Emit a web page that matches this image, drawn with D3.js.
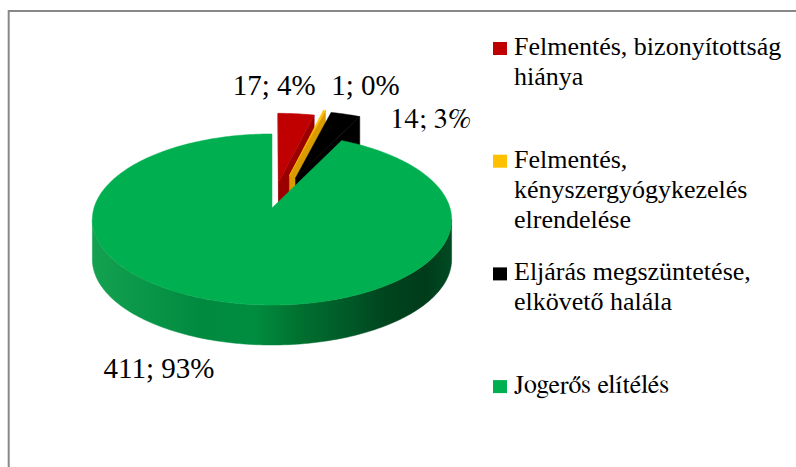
<!DOCTYPE html>
<html><head><meta charset="utf-8">
<script src="https://cdn.jsdelivr.net/npm/d3@7"></script>
</head><body style="margin:0">
<script>
// data
const categories = [
  "Felmentés, bizonyítottság hiánya",
  "Felmentés, kényszergyógykezelés elrendelése",
  "Eljárás megszüntetése, elkövető halála",
  "Jogerős elítélés"
];
const legendLines = [
  ["Felmentés, bizonyítottság", "hiánya"],
  ["Felmentés,", "kényszergyógykezelés", "elrendelése"],
  ["Eljárás megszüntetése,", "elkövető halála"],
  ["Jogerős elítélés"]
];
const values = [17, 1, 14, 411];

// styles
const labelFonts = ["Times New Roman", "Tinos", "FreeSerif", "Nimbus Roman"];
const legendFonts = ["Liberation Serif", "Times New Roman", "Tinos", "FreeSerif"];
const colors = ["#c00000", "#ffc000", "#000000", "#00b050"];
const sideColors = ["#9a0000", "#d99b00", "#000000", "url(#greenSide)"];
const explode = [0.33, 0.42, 0.4, 0];
// label offset (px) from the outer top rim point on each slice bisector
const labelShift = [[-22, -19], [41, -15], [85, 14], [-67, 76]];

const dims = { width: 796, height: 467 };
const p3 = { cx: 272, cy: 208, r: 178, tilt: 84, persp: 0.134, depth: 40 };

const svg = d3
  .select("body")
  .append("svg")
  .attr("width", dims.width)
  .attr("height", dims.height)
  .style("display", "block");

// green side gradient
const grad = svg
  .append("defs")
  .append("linearGradient")
  .attr("id", "greenSide")
  .attr("gradientUnits", "userSpaceOnUse")
  .attr("x1", p3.cx - p3.r)
  .attr("x2", p3.cx + p3.r)
  .attr("y1", 0)
  .attr("y2", 0);
[
  [0, "#13a150"],
  [0.3, "#008a40"],
  [0.45, "#008d40"],
  [0.58, "#00702f"],
  [0.72, "#005827"],
  [0.82, "#00441e"],
  [0.93, "#003c1a"],
  [1, "#004a22"]
].forEach(([o, c]) => grad.append("stop").attr("offset", o).attr("stop-color", c));

// frame
svg
  .append("rect")
  .attr("x", 8.7)
  .attr("y", 11)
  .attr("width", 820)
  .attr("height", 480)
  .attr("fill", "none")
  .attr("stroke", "#888")
  .attr("stroke-width", 2);

// projection: X right, Z away from viewer (radius units)
const project = (X, Z, bottom) => {
  const s = 1 / (1 + p3.persp * Z);
  return [p3.cx + p3.r * X * s, p3.cy - p3.tilt * Z * s + (bottom ? p3.depth : 0)];
};

const pie = d3.pie().sort(null).value((d) => d);
const arcs = pie(values).map((d, i) => {
  const mid = (d.startAngle + d.endAngle) / 2;
  return { ...d, i, mid, ox: explode[i] * Math.sin(mid), oz: explode[i] * Math.cos(mid) };
});

const rim = (d, t, bottom) => project(d.ox + Math.sin(t), d.oz + Math.cos(t), bottom);
const tip = (d, bottom) => project(d.ox, d.oz, bottom);
const samples = (a, b) => {
  const n = Math.max(2, Math.ceil((b - a) / 0.02));
  return d3.range(n + 1).map((k) => a + ((b - a) * k) / n);
};
const line = d3.line().curve(d3.curveLinear);

const total = d3.sum(values);
const front1 = Math.acos(-p3.persp);
const front2 = 2 * Math.PI - front1;

const graph = svg.append("g");

arcs.forEach((d) => {
  const g = graph.append("g").attr("class", "slice");
  const side = sideColors[d.i];

  // outer wall (front part only)
  const a = Math.max(d.startAngle, front1);
  const b = Math.min(d.endAngle, front2);
  if (b > a) {
    const ts = samples(a, b);
    const pts = ts.map((t) => rim(d, t, false)).concat(ts.slice().reverse().map((t) => rim(d, t, true)));
    g.append("path").attr("d", line(pts) + "Z").attr("fill", side).attr("stroke", side).attr("stroke-width", 0.5);
  }

  // radial faces
  [["start", d.startAngle], ["end", d.endAngle]].forEach(([kind, t]) => {
    const rt = rim(d, t, false);
    const tt = tip(d, false);
    const visible = kind === "end" ? rt[0] > tt[0] + 0.5 : rt[0] < tt[0] - 0.5;
    if (!visible) return;
    const pts = [tt, rt, rim(d, t, true), tip(d, true)];
    g.append("path").attr("d", line(pts) + "Z").attr("fill", side).attr("stroke", side).attr("stroke-width", 0.5);
  });

  // top face
  const topPts = [tip(d, false)].concat(samples(d.startAngle, d.endAngle).map((t) => rim(d, t, false)));
  g.append("path")
    .attr("d", line(topPts) + "Z")
    .attr("fill", colors[d.i])
    .attr("stroke", colors[d.i])
    .attr("stroke-width", 0.5);
});

// data labels
svg
  .selectAll("text.label")
  .data(arcs)
  .enter()
  .append("text")
  .attr("class", "label")
  .attr("x", (d) => rim(d, d.mid, false)[0] + labelShift[d.i][0])
  .attr("y", (d) => rim(d, d.mid, false)[1] + labelShift[d.i][1])
  .attr("text-anchor", "middle")
  .attr("font-size", 29)
  .style("font-family", (d) => `'${labelFonts[d.i]}'`)
  .text((d) => `${d.data}; ${Math.round((d.data / total) * 100)}%`);

// legend
const legend = svg.append("g").attr("transform", "translate(493,55)");
const item = legend
  .selectAll("g")
  .data(categories)
  .enter()
  .append("g")
  .attr("transform", (d, i) => `translate(0,${i * 112.7})`);

item
  .append("rect")
  .attr("x", 0)
  .attr("y", -13)
  .attr("width", 14)
  .attr("height", 13)
  .attr("fill", (d, i) => colors[i]);

item.each(function (d, i) {
  d3.select(this)
    .selectAll("text")
    .data(legendLines[i])
    .enter()
    .append("text")
    .attr("x", 21)
    .attr("y", (t, j) => j * 30)
    .attr("font-size", 26)
    .style("font-family", `'${legendFonts[i]}'`)
    .text((t) => t);
});
</script>
</body></html>
